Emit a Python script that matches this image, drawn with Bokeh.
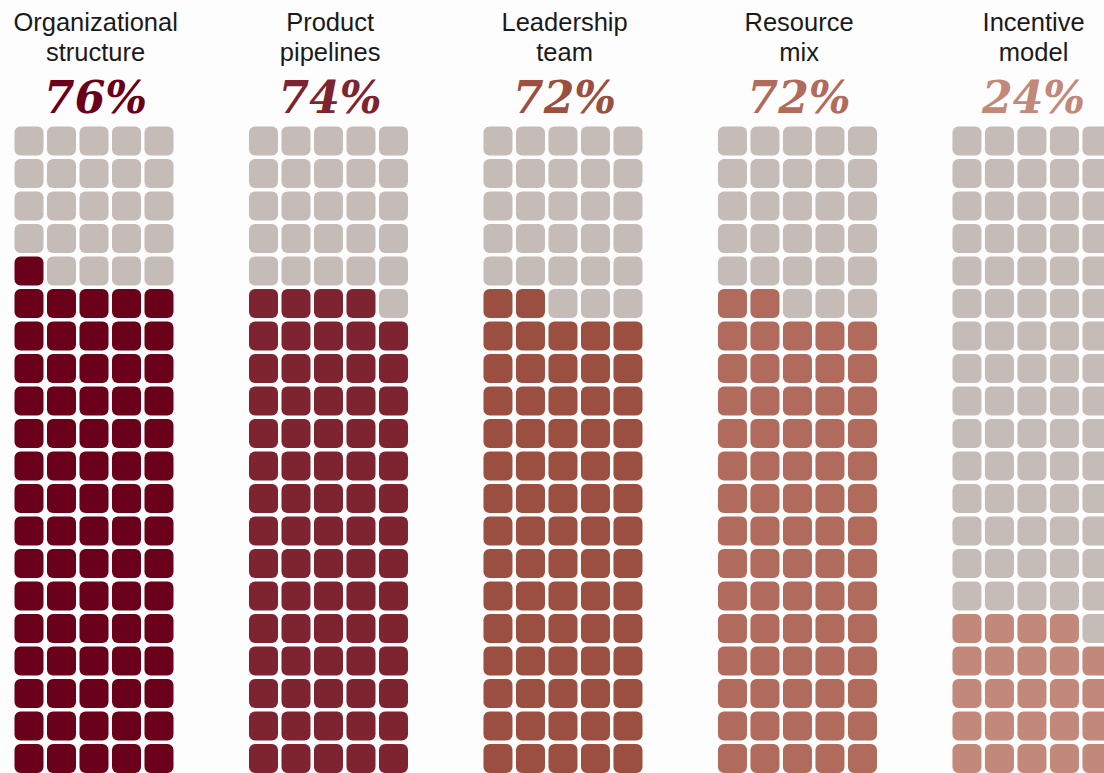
from bokeh.plotting import figure
from bokeh.models import Range1d, ColumnDataSource
from bokeh.core.properties import value
from bokeh.embed import file_html
from bokeh.resources import INLINE

# ---- data ----
categories = ["Organizational\nstructure", "Product\npipelines", "Leadership\nteam",
              "Resource\nmix", "Incentive\nmodel"]
percent = [76, 74, 72, 72, 24]
colors = ["#6a0019", "#7e2330", "#9a4f40", "#b06b5c", "#c2887a"]
empty_color = "#c5bcb7"

COLS = 5      # squares per row
ROWS = 20     # rows per group
GROUP_STEP = 7.215  # spacing between groups, in cell units
CELL = 32.5   # pixels per cell unit

W, H = 1104, 773

xs, ys, fills = [], [], []
for g, pct in enumerate(percent):
    for k in range(COLS * ROWS):
        row = k // COLS          # 0 = bottom row
        col = k % COLS
        xs.append(g * GROUP_STEP + col)
        ys.append(row)
        fills.append(colors[g] if k < pct else empty_color)

src = ColumnDataSource(dict(x=xs, y=ys, fill=fills))

x0 = -28.5 / CELL
y0 = -(H - 758) / CELL
p = figure(width=W, height=H, output_backend="svg", toolbar_location=None,
           x_range=Range1d(x0, x0 + W / CELL), y_range=Range1d(y0, y0 + H / CELL),
           min_border=0, border_fill_color="#fdfdfd", background_fill_color="#fdfdfd")
p.axis.visible = False
p.grid.visible = False
p.outline_line_color = None

p.rect(x="x", y="y", width=29 / CELL, height=29 / CELL, source=src,
       fill_color="fill", line_color=None, border_radius=6)

centers = [g * GROUP_STEP + (COLS - 1) / 2 + 0.05 for g in range(len(percent))]
line1 = [c.split("\n")[0] for c in categories]
line2 = [c.split("\n")[1] for c in categories]
top = y0 + H / CELL
p.text(x=centers, y=[top - 21.5 / CELL] * 5, text=line1, text_align="center",
       text_baseline="alphabetic", text_font=value("Liberation Sans"),
       text_font_size="25.5px", text_color="#1a1a1a")
p.text(x=centers, y=[top - 51.5 / CELL] * 5, text=line2, text_align="center",
       text_baseline="alphabetic", text_font=value("Liberation Sans"),
       text_font_size="25.5px", text_color="#1a1a1a")
p.text(x=centers, y=[top - 96.5 / CELL] * 5, text=[f"{v}%" for v in percent],
       text_align="center", text_baseline="alphabetic",
       text_font=value("DejaVu Serif"), text_font_style="bold italic",
       text_font_size="44px", text_color=colors)

open("out.html", "w").write(file_html(p, INLINE))
